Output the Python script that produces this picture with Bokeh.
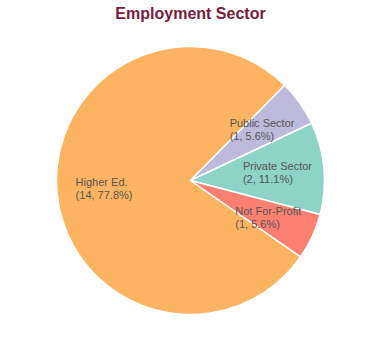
import math
from bokeh.plotting import figure
from bokeh.models import ColumnDataSource, Range1d
from bokeh.core.properties import value
from bokeh.embed import file_html
from bokeh.resources import INLINE

title_text = "Employment Sector"
categories = ["Higher Ed.", "Public Sector", "Private Sector", "Not For-Profit"]
counts = [14, 1, 2, 1]
colors = ["#FDB462", "#BEBADA", "#8DD3C7", "#FB8072"]

W, H = 380, 360
cx, cy, R = 190, 180, 134
start_deg = -34.7  # slices run clockwise from here
label_r = 0.655 * R
char_w = 5.0

total = sum(counts)
starts, ends, lx, ly, labels, xoff = [], [], [], [], [], []
a = math.radians(start_deg)
for cat, n in zip(categories, counts):
    span = 2 * math.pi * n / total
    s, e = a - span, a  # counterclockwise from s to e
    starts.append(s)
    ends.append(e)
    mid = (s + e) / 2
    lx.append(cx + label_r * math.cos(mid))
    ly.append(cy + label_r * math.sin(mid))
    pct = 100.0 * n / total
    txt = f"{cat}\n({n}, {pct:.1f}%)"
    labels.append(txt)
    xoff.append(-max(len(t) for t in txt.split("\n")) * char_w / 2)
    a = s

src = ColumnDataSource(dict(start=starts, end=ends, color=colors,
                            lx=lx, ly=ly, label=labels, xoff=xoff,
                            x=[cx] * len(counts), y=[cy] * len(counts)))

p = figure(width=W, height=H, output_backend="svg", toolbar_location=None,
           x_range=Range1d(0, W), y_range=Range1d(0, H), min_border=0,
           outline_line_color=None, background_fill_color="white")
p.axis.visible = False
p.grid.visible = False

p.wedge(x="x", y="y", radius=R, start_angle="start", end_angle="end",
        fill_color="color", line_color="white", line_width=1.5, source=src)

p.text(x="lx", y="ly", text="label", x_offset="xoff", source=src,
       text_align="left", text_baseline="middle", text_line_height=1.1,
       text_font=value("Liberation Sans"), text_font_size="11px",
       text_color="#555555")

p.text(x=[W / 2], y=[H - 13], text=[title_text], text_align="center",
       text_baseline="middle", text_font=value("Liberation Sans"),
       text_font_size="16px", text_font_style="bold", text_color="#7A1B3D")

open("out.html", "w").write(file_html(p, INLINE))
